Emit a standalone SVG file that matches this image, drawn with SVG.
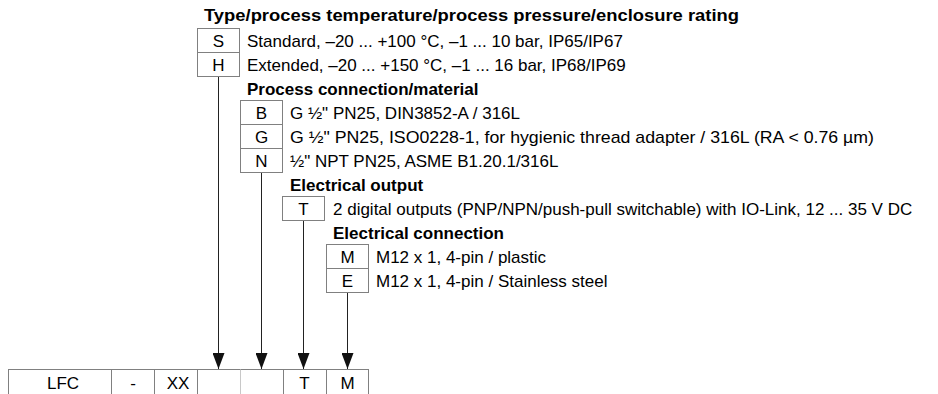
<svg xmlns="http://www.w3.org/2000/svg" width="938" height="394" viewBox="0 0 938 394">
<style>
.h{font-family:"Liberation Sans",Arial,sans-serif;font-weight:bold;font-size:17px;fill:#000}
.t{font-family:"Liberation Sans",Arial,sans-serif;font-size:17px;fill:#000}
.k{font-family:"Liberation Sans",Arial,sans-serif;font-size:17px;fill:#000;text-anchor:middle}
.b{fill:#fff;stroke:#808080;stroke-width:1}
.c{stroke:#222;stroke-width:1;fill:none}
.d{stroke:#808080;stroke-width:1}
</style>
<defs>
<marker id="ar" viewBox="0 0 16 12" refX="16" refY="6" markerWidth="16" markerHeight="12" markerUnits="userSpaceOnUse" orient="auto">
<path d="M0,0 L16,6 L0,12 Z" fill="#111"/>
</marker>
</defs>
<rect width="938" height="394" fill="#fff"/>
<g id="connectors">
<line class="c" x1="218.5" y1="76.5" x2="218.5" y2="369" marker-end="url(#ar)"/>
<line class="c" x1="261.5" y1="172.5" x2="261.5" y2="369" marker-end="url(#ar)"/>
<line class="c" x1="303.5" y1="220.5" x2="303.5" y2="369" marker-end="url(#ar)"/>
<line class="c" x1="347.5" y1="292.5" x2="347.5" y2="369" marker-end="url(#ar)"/>
</g>
<g id="type">
<text class="h" x="204" y="21" textLength="535" lengthAdjust="spacingAndGlyphs">Type/process temperature/process pressure/enclosure rating</text>
<rect class="b" x="197.5" y="28.5" width="42" height="24"/>
<rect class="b" x="197.5" y="52.5" width="42" height="24"/>
<text class="k" x="218.5" y="46.5">S</text>
<text class="k" x="218.5" y="70.5">H</text>
<text class="t" x="247" y="46.5">Standard, –20 ... +100 °C, –1 ... 10 bar, IP65/IP67</text>
<text class="t" x="247" y="70.5">Extended, –20 ... +150 °C, –1 ... 16 bar, IP68/IP69</text>
</g>
<g id="process">
<text class="h" x="247" y="94.5">Process connection/material</text>
<rect class="b" x="240.5" y="100.5" width="42" height="24"/>
<rect class="b" x="240.5" y="124.5" width="42" height="24"/>
<rect class="b" x="240.5" y="148.5" width="42" height="24"/>
<text class="k" x="261.5" y="118.5">B</text>
<text class="k" x="261.5" y="142.5">G</text>
<text class="k" x="261.5" y="166.5">N</text>
<text class="t" x="290" y="118.5">G ½" PN25, DIN3852-A / 316L</text>
<text class="t" x="290" y="142.5" textLength="584" lengthAdjust="spacingAndGlyphs">G ½" PN25, ISO0228-1, for hygienic thread adapter / 316L (RA &lt; 0.76 µm)</text>
<text class="t" x="290" y="166.5">½" NPT PN25, ASME B1.20.1/316L</text>
</g>
<g id="output">
<text class="h" x="290" y="190.5">Electrical output</text>
<rect class="b" x="282.5" y="196.5" width="42" height="24"/>
<text class="k" x="303.5" y="214.5">T</text>
<text class="t" x="333" y="214.5">2 digital outputs (PNP/NPN/push-pull switchable) with IO-Link, 12 ... 35 V DC</text>
</g>
<g id="connection">
<text class="h" x="333" y="238.5">Electrical connection</text>
<rect class="b" x="326.5" y="244.5" width="42" height="24"/>
<rect class="b" x="326.5" y="268.5" width="42" height="24"/>
<text class="k" x="347.5" y="262.5">M</text>
<text class="k" x="347.5" y="286.5">E</text>
<text class="t" x="376" y="262.5">M12 x 1, 4-pin / plastic</text>
<text class="t" x="376" y="286.5">M12 x 1, 4-pin / Stainless steel</text>
</g>
<g id="code">
<rect class="b" x="8.5" y="369.5" width="360" height="30"/>
<line class="d" x1="111.5" y1="369.5" x2="111.5" y2="394"/>
<line class="d" x1="154.5" y1="369.5" x2="154.5" y2="394"/>
<line class="d" x1="197.5" y1="369.5" x2="197.5" y2="394"/>
<line x1="240.5" y1="369.5" x2="240.5" y2="394" stroke="#c8c8c8"/>
<line class="d" x1="283.5" y1="369.5" x2="283.5" y2="394"/>
<line class="d" x1="326.5" y1="369.5" x2="326.5" y2="394"/>
<text class="k" x="63" y="389">LFC</text>
<text class="k" x="133" y="389">-</text>
<text class="k" x="178" y="389">XX</text>
<text class="k" x="304.5" y="389">T</text>
<text class="k" x="347.5" y="389">M</text>
</g>
</svg>
